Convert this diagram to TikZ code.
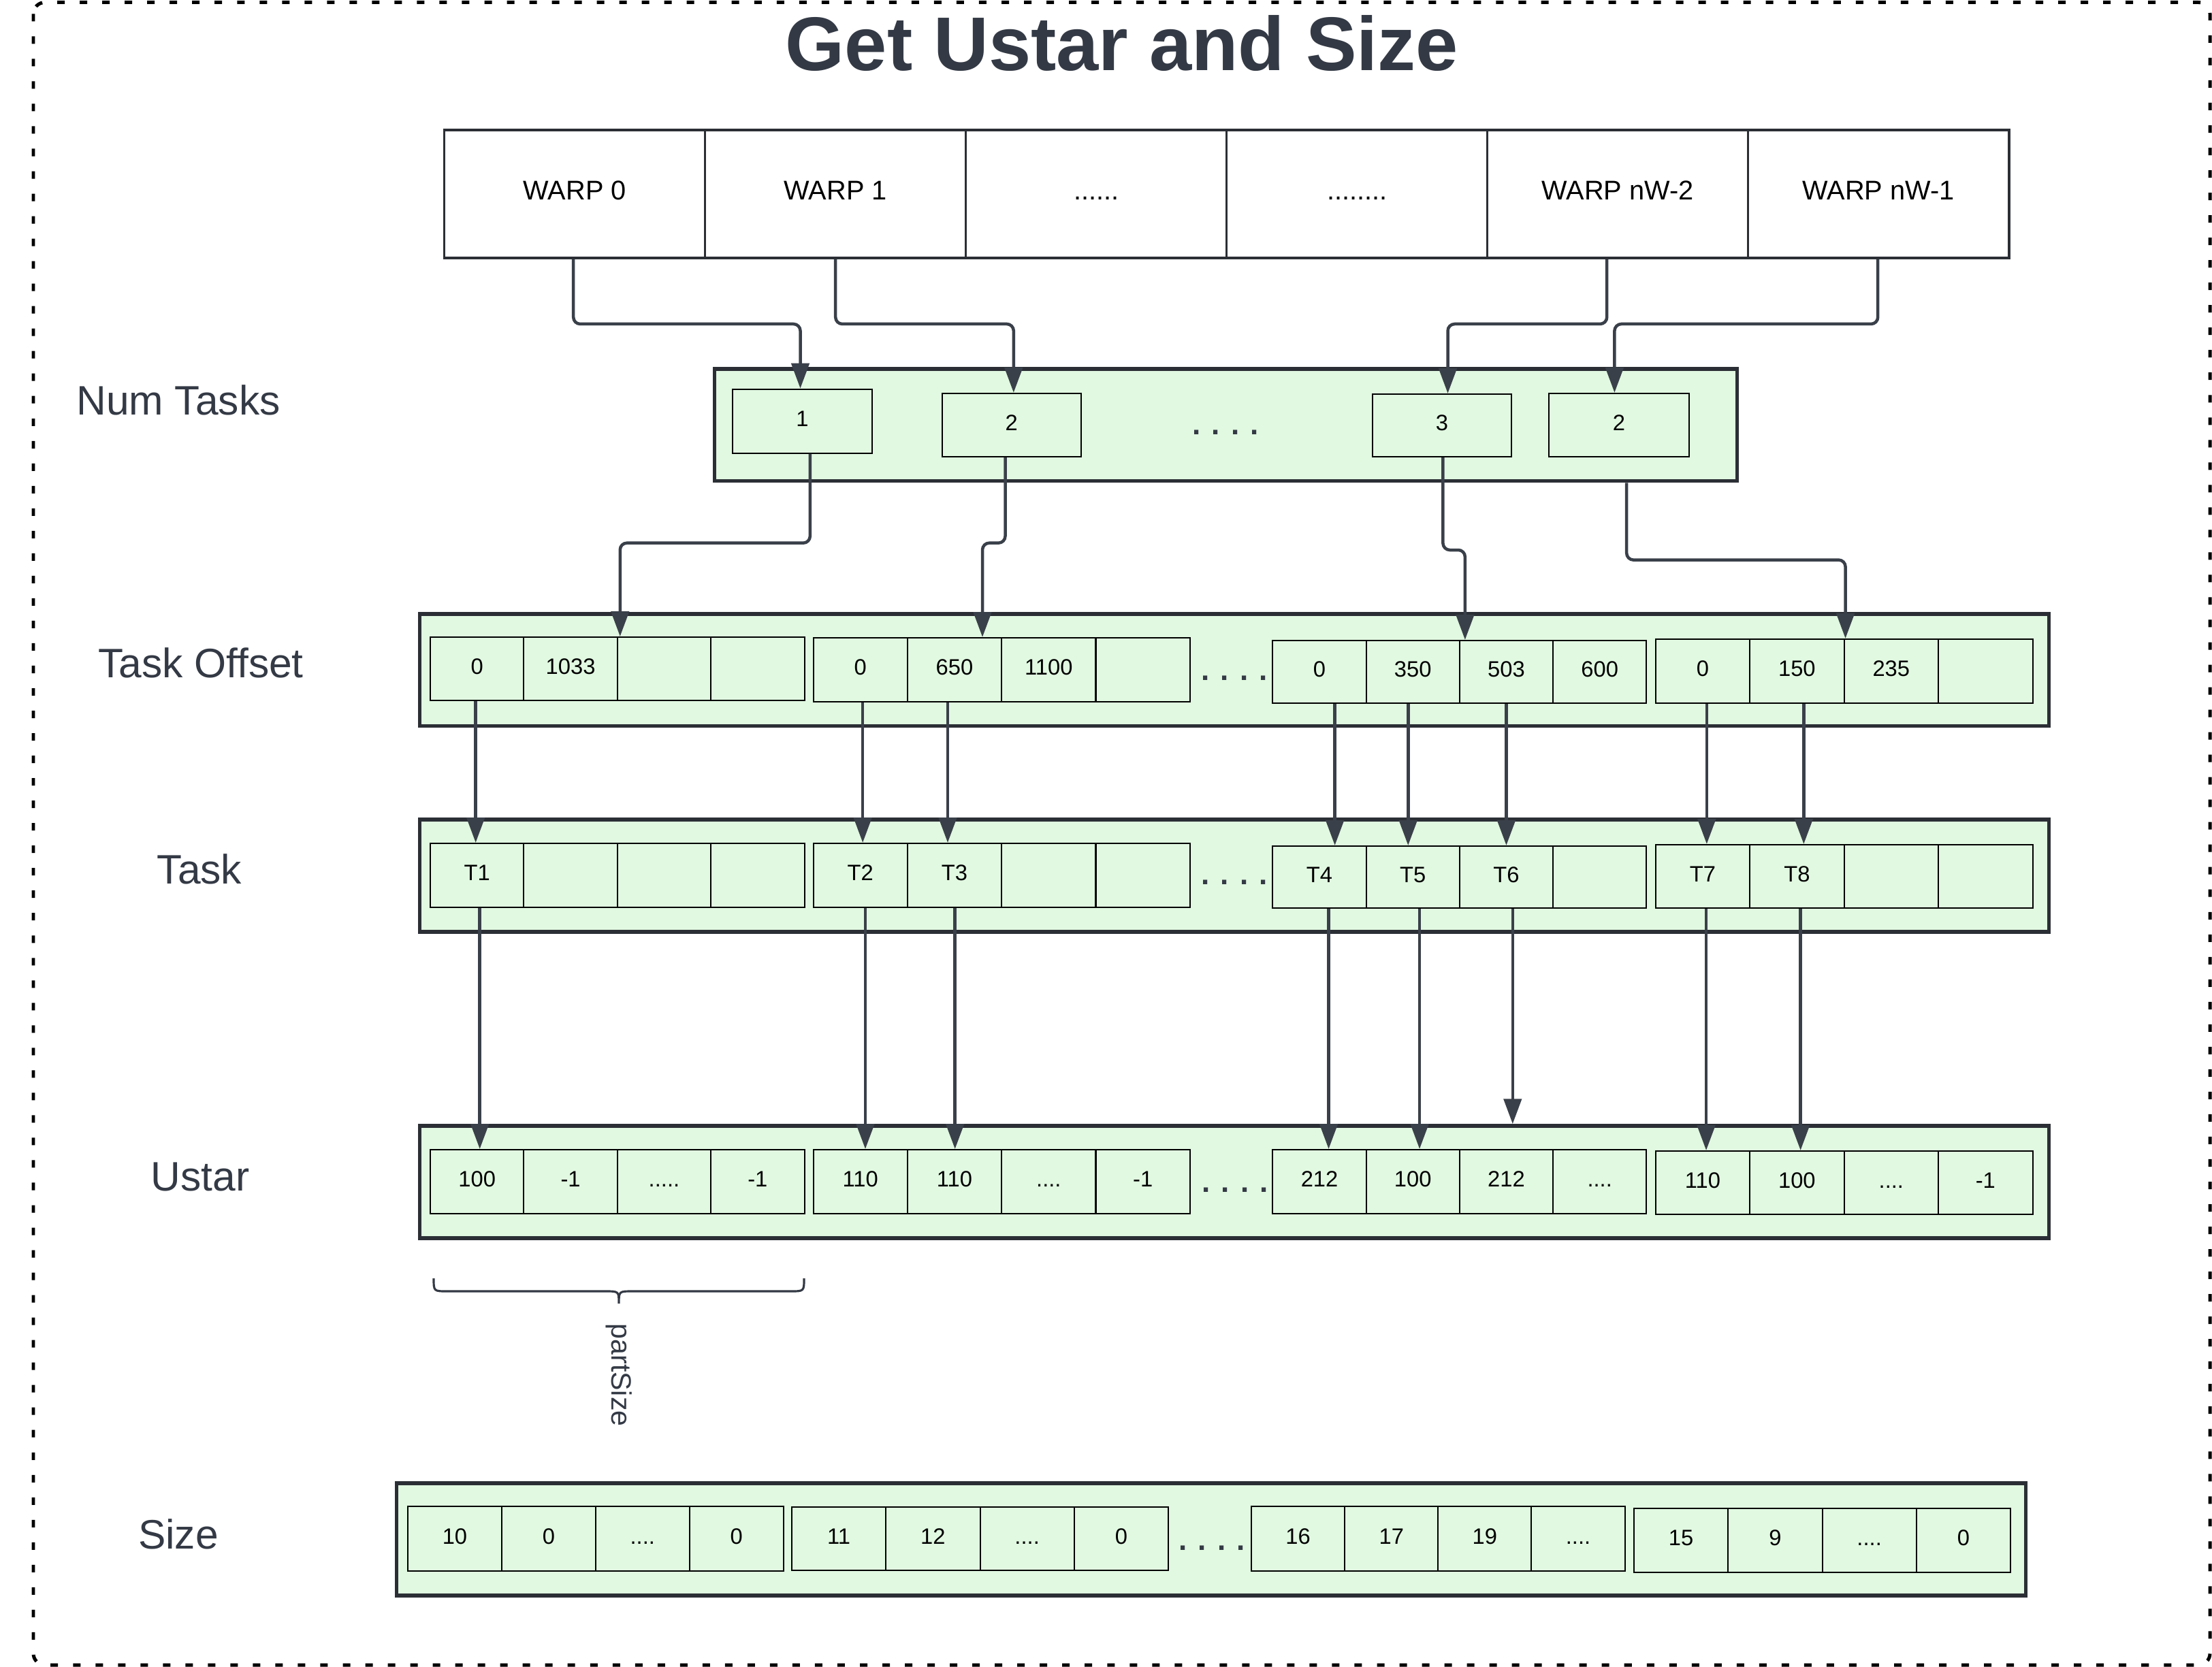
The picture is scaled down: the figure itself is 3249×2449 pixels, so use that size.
\documentclass[tikz,border=0pt]{standalone}
\usepackage{fontspec}
\setmainfont{Liberation Sans}
\usetikzlibrary{arrows.meta}
\definecolor{cellg}{RGB}{225,248,225}
\definecolor{bordc}{RGB}{43,47,53}
\definecolor{arrc}{RGB}{58,64,73}
\definecolor{txtc}{RGB}{52,58,69}
\newcommand\dfour{....}
\newcommand\dfive{.....}
% name, xleft, xright, ytop, ybottom, labels
\newcommand\mycells[6]{%
  \pgfmathsetmacro\cgw{(#3-#2)/4}%
  \pgfmathsetmacro\cgh{#5-#4}%
  \pgfmathsetmacro\cgy{(#4+#5)/2}%
  \foreach \lbl [count=\i] in {#6} {%
    \node[cellbox, minimum width=\cgw*0.01cm, minimum height=\cgh*0.01cm] (#1-\i) at ({#2+\cgw*(\i-0.5)},\cgy) {\lbl};
  }%
}
\newcommand\varr[3]{\draw[arr] ([xshift=#3]#1.south) -- ([xshift=#3]#1.south |- #2.north);}
\begin{document}
\begin{tikzpicture}[x=0.01cm, y=-0.01cm,
  cellbox/.style={draw=black, line width=0.57pt, fill=cellg, inner sep=0pt,
    font=\fontsize{9.3}{11}\selectfont, text height=6.66pt, text depth=2.3pt},
  warpbox/.style={draw=bordc, line width=1pt, fill=white, inner sep=0pt,
    minimum width=3.83cm, minimum height=1.88cm,
    font=\fontsize{11.3}{13}\selectfont, text height=8.1pt, text depth=3.4pt},
  outerbox/.style={draw=bordc, line width=1.56pt, fill=cellg, inner sep=0pt},
  arr/.style={draw=arrc, line width=1.28pt, rounded corners=2.85pt,
    -{Triangle[length=10.5pt,width=7.4pt]}},
  rowlabel/.style={text=txtc, font=\fontsize{17.2}{20}\selectfont,
    text height=12.3pt, text depth=0pt, inner sep=0pt},
  dotsnode/.style={text=txtc, font=\bfseries\fontsize{12.5}{14}\selectfont,
    anchor=base, inner sep=0pt},
]
\useasboundingbox (0,0) rectangle (3249,2449);

% outer dashed frame
\draw[black, line width=1.42pt, dash pattern=on 3.13pt off 6.26pt, rounded corners=4.8pt]
  (49,3.5) rectangle (3246,2446);

% title
\node[text=txtc, font=\bfseries\fontsize{31.8}{36}\selectfont, anchor=base, inner sep=0pt]
  (title) at (1648,104) {Get Ustar and Size};

% row labels
\node[rowlabel] (lnum) at (262,588) {Num Tasks};
\node[rowlabel] (lto)  at (295,974) {Task Offset};
\node[rowlabel] (lt)   at (293,1277) {Task};
\node[rowlabel] (lu)   at (294,1728) {Ustar};
\node[rowlabel] (ls)   at (262,2254) {Size};

% warps
\node[warpbox] (w0) at (844.2,285) {WARP 0};
\node[warpbox] (w1) at (1227.2,285) {WARP 1};
\node[warpbox] (w2) at (1610.2,285) {......};
\node[warpbox] (w3) at (1993.2,285) {........};
\node[warpbox] (w4) at (2376.2,285) {WARP nW-2};
\node[warpbox] (w5) at (2759.2,285) {WARP nW-1};

% outer boxes
\node[outerbox, minimum width=15.01cm, minimum height=1.647cm] (numbox) at (1800.5,624.3) {};
\node[outerbox, minimum width=23.92cm, minimum height=1.645cm] (tobox) at (1813,984.25) {};
\node[outerbox, minimum width=23.92cm, minimum height=1.65cm] (tbox) at (1813,1286.5) {};
\node[outerbox, minimum width=23.92cm, minimum height=1.65cm] (ubox) at (1813,1736.5) {};
\node[outerbox, minimum width=23.92cm, minimum height=1.65cm] (sbox) at (1779,2261.5) {};

% num tasks
\node[cellbox, minimum width=2.04cm, minimum height=0.94cm] (nt1) at (1178.5,618.7) {1};
\node[cellbox, minimum width=2.04cm, minimum height=0.93cm] (nt2) at (1485.8,624.4) {2};
\node[cellbox, minimum width=2.04cm, minimum height=0.92cm] (nt3) at (2118,625) {3};
\node[cellbox, minimum width=2.05cm, minimum height=0.93cm] (nt4) at (2378,624.4) {2};
\node[dotsnode] (dnum) at (1800,639) {. . . .};

% task offset
\mycells{to1}{632}{1181.5}{936}{1029}{0,1033,{},{}}
\mycells{to2}{1194.5}{1747.8}{937}{1031}{0,650,1100,{}}
\mycells{to3}{1869.4}{2418.3}{941}{1033}{0,350,503,600}
\mycells{to4}{2431.6}{2985.5}{939}{1033}{0,150,235,{}}
\node[dotsnode] (dto) at (1813,999) {. . . .};

% task
\mycells{t1}{632}{1181.5}{1239}{1333}{T1,{},{},{}}
\mycells{t2}{1194.5}{1747.8}{1239}{1333}{T2,T3,{},{}}
\mycells{t3}{1869.4}{2418.3}{1243}{1334}{T4,T5,T6,{}}
\mycells{t4}{2431.6}{2985.5}{1241}{1334}{T7,T8,{},{}}
\node[dotsnode] (dt) at (1813,1299) {. . . .};

% ustar
\mycells{u1}{632}{1181.5}{1689}{1783}{100,-1,\dfive,-1}
\mycells{u2}{1194.5}{1747.8}{1689}{1783}{110,110,\dfour,-1}
\mycells{u3}{1869.4}{2418.3}{1689}{1783}{212,100,212,\dfour}
\mycells{u4}{2431.6}{2985.5}{1691}{1784}{110,100,\dfour,-1}
\node[dotsnode] (du) at (1814,1751) {. . . .};

% size
\mycells{s1}{599}{1150.6}{2213}{2308}{10,0,\dfour,0}
\mycells{s2}{1163}{1716}{2214}{2307}{11,12,\dfour,0}
\mycells{s3}{1838}{2386.6}{2213}{2308}{16,17,19,\dfour}
\mycells{s4}{2400}{2953}{2216}{2310}{15,9,\dfour,0}
\node[dotsnode] (ds) at (1780,2277) {. . . .};

% brace and partSize
\draw[txtc, line width=0.9pt] (637,1878) .. controls (637,1897) .. (657,1897) -- (889,1897)
  .. controls (909,1897) .. (909,1915) .. controls (909,1897) .. (929,1897) -- (1161,1897)
  .. controls (1181,1897) .. (1181,1878);
\node[text=txtc, font=\fontsize{11.7}{13}\selectfont, rotate=-90, inner sep=0pt] (psize) at (909,2020) {partSize};

% warp -> num tasks
\coordinate (lvw) at (0,476);
\draw[arr] ([xshift=-0.02cm]w0.south) -- ([xshift=-0.02cm]w0.south |- lvw) -| ([xshift=-0.03cm]nt1.north);
\draw[arr] (w1.south) -- (w1.south |- lvw) -| ([xshift=0.03cm]nt2.north);
\draw[arr] ([xshift=-0.16cm]w4.south) -- ([xshift=-0.16cm]w4.south |- lvw) -| ([xshift=0.085cm]nt3.north);
\draw[arr] ([xshift=-0.01cm]w5.south) -- ([xshift=-0.01cm]w5.south |- lvw) -| ([xshift=-0.066cm]nt4.north);

% num tasks -> task offset
\coordinate (lva) at (0,797.7);
\coordinate (lvc) at (0,808);
\coordinate (lvd) at (0,822.6);
\draw[arr] ([xshift=0.113cm]nt1.south) -- ([xshift=0.113cm]nt1.south |- lva) -| ([xshift=0.05cm]to1-3.north west);
\draw[arr] ([xshift=-0.093cm]nt2.south) -- ([xshift=-0.093cm]nt2.south |- lva) -| ([xshift=0.41cm]to2-2.north);
\draw[arr] ([xshift=0.014cm]nt3.south) -- ([xshift=0.014cm]nt3.south |- lvc) -| ([xshift=0.09cm]to3-3.north west);
\draw[arr] ([xshift=5.883cm]numbox.south) -- ([xshift=5.883cm]numbox.south |- lvd) -| ([xshift=0.03cm]to4-3.north west);

% task offset -> task
\varr{to1-1}{t1-1}{-0.02cm}
\varr{to2-1}{t2-1}{0.035cm}
\varr{to2-2}{t2-2}{-0.1cm}
\varr{to3-1}{t3-1}{0.226cm}
\varr{to3-2}{t3-2}{-0.07cm}
\varr{to3-3}{t3-3}{0cm}
\varr{to4-1}{t4-1}{0.06cm}
\varr{to4-2}{t4-2}{0.1cm}

% task -> ustar
\varr{t1-1}{u1-1}{0.04cm}
\varr{t2-1}{u2-1}{0.073cm}
\varr{t2-2}{u2-2}{0.007cm}
\varr{t3-1}{u3-1}{0.135cm}
\varr{t3-2}{u3-2}{0.098cm}
\varr{t3-3}{ubox}{0.093cm}
\varr{t4-1}{u4-1}{0.052cm}
\varr{t4-2}{u4-2}{0.053cm}
\end{tikzpicture}
\end{document}
